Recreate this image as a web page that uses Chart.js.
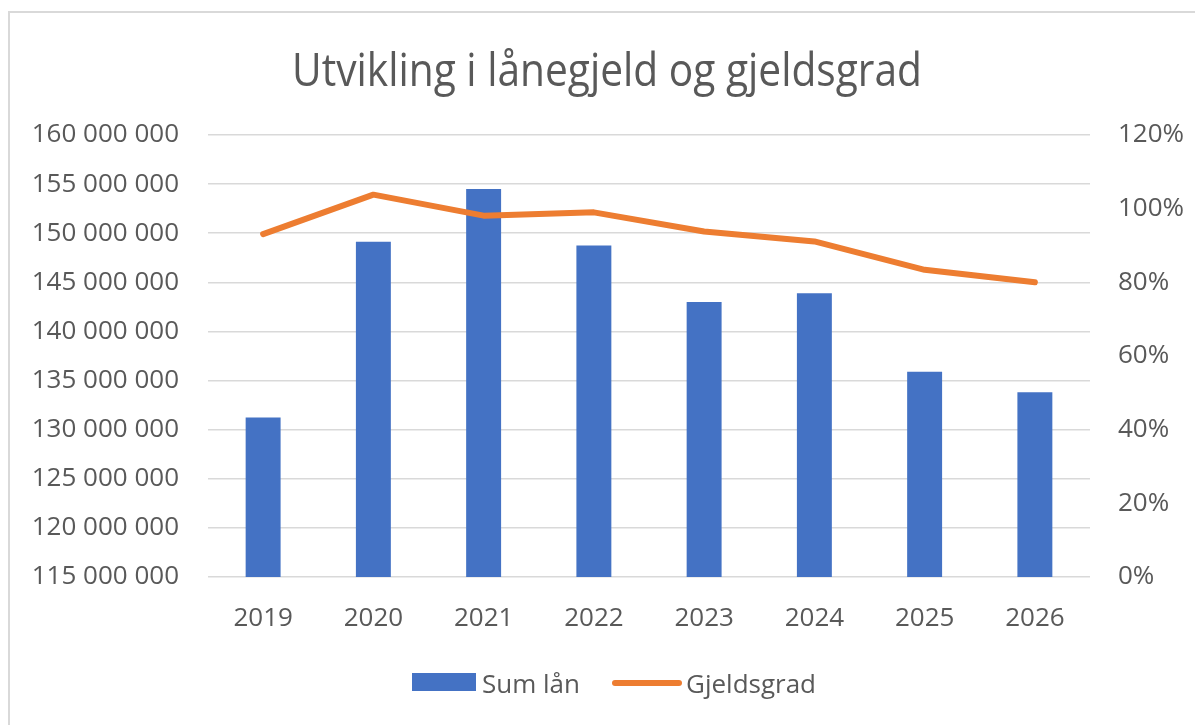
<!DOCTYPE html>
<html>
<head>
<meta charset="utf-8">
<script src="https://cdn.jsdelivr.net/npm/chart.js@4"></script>
<style>
html,body{margin:0;padding:0;background:#fff;overflow:hidden;}
#frame{position:absolute;left:8px;top:11px;width:1200px;height:730px;border-left:2px solid #d9d9d9;border-top:2px solid #d9d9d9;box-sizing:border-box;}
#c{position:absolute;left:0;top:0;}
</style>
</head>
<body>
<div id="frame"></div>
<canvas id="c" width="1195" height="725"></canvas>
<script>
const categories = ['2019','2020','2021','2022','2023','2024','2025','2026'];
const sumLan = [131250000, 149140000, 154500000, 148760000, 143000000, 143900000, 135900000, 133800000];
const gjeldsgrad = [0.931, 1.038, 0.981, 0.990, 0.938, 0.911, 0.834, 0.800];
const titleText = 'Utvikling i lånegjeld og gjeldsgrad';
const seriesNames = ['Sum lån', 'Gjeldsgrad'];

const FONT = '"Open Sans", "Liberation Sans", sans-serif';
const TXT = '#595959';
const BLUE = '#4472c4';
const ORANGE = '#ed7d31';
const GRID = '#d9d9d9';

const fmtSpace = v => Math.round(v).toString().replace(/\B(?=(\d{3})+(?!\d))/g, ' ');

const overlay = {
  id: 'overlay',
  afterDraw(chart) {
    const ctx = chart.ctx;
    ctx.save();
    // title
    ctx.font = '400 45px ' + FONT;
    ctx.fillStyle = TXT;
    const w = ctx.measureText(titleText).width;
    ctx.translate(607, 86);
    ctx.scale(630 / w, 1);
    ctx.textAlign = 'center';
    ctx.textBaseline = 'alphabetic';
    ctx.fillText(titleText, 0, 0);
    ctx.restore();

    // legend
    ctx.save();
    ctx.fillStyle = BLUE;
    ctx.fillRect(412, 673, 64, 18);
    ctx.strokeStyle = ORANGE;
    ctx.lineWidth = 6;
    ctx.lineCap = 'round';
    ctx.beginPath();
    ctx.moveTo(615, 683);
    ctx.lineTo(679, 683);
    ctx.stroke();
    ctx.font = '26px ' + FONT;
    ctx.fillStyle = TXT;
    ctx.textBaseline = 'alphabetic';
    ctx.textAlign = 'left';
    ctx.fillText(seriesNames[0], 482, 693);
    ctx.fillText(seriesNames[1], 686, 693);
    ctx.restore();
  }
};

new Chart(document.getElementById('c'), {
  data: {
    labels: categories,
    datasets: [
      {
        type: 'line',
        label: seriesNames[1],
        data: gjeldsgrad,
        yAxisID: 'y1',
        borderColor: ORANGE,
        borderWidth: 6,
        borderCapStyle: 'round',
        borderJoinStyle: 'round',
        pointRadius: 0,
        tension: 0,
        order: 0
      },
      {
        type: 'bar',
        label: seriesNames[0],
        data: sumLan,
        yAxisID: 'y',
        backgroundColor: BLUE,
        borderWidth: 0,
        barPercentage: 0.317,
        categoryPercentage: 1,
        order: 1
      }
    ]
  },
  options: {
    responsive: false,
    animation: false,
    layout: { padding: { top: 135, left: 0, right: 0, bottom: 0 } },
    plugins: { legend: { display: false }, title: { display: false }, tooltip: { enabled: false } },
    scales: {
      x: {
        grid: { display: false },
        border: { display: false },
        ticks: { font: { family: FONT, size: 26 }, color: TXT, padding: 18, maxRotation: 0 },
        afterFit(s) { s.height = 148; }
      },
      y: {
        position: 'left',
        min: 115000000,
        max: 160000000,
        ticks: { stepSize: 5000000, callback: v => fmtSpace(v), font: { family: FONT, size: 26 }, color: TXT, padding: 29 },
        grid: { color: GRID, lineWidth: 1.5, drawTicks: false },
        border: { display: false },
        afterFit(s) { s.width = 208; }
      },
      y1: {
        position: 'right',
        min: 0,
        max: 1.2,
        ticks: { stepSize: 0.2, callback: v => Math.round(v * 100) + '%', font: { family: FONT, size: 26 }, color: TXT, padding: 28 },
        grid: { display: false, drawTicks: false },
        border: { display: false },
        afterFit(s) { s.width = 105; }
      }
    }
  },
  plugins: [overlay]
});
</script>
</body>
</html>
